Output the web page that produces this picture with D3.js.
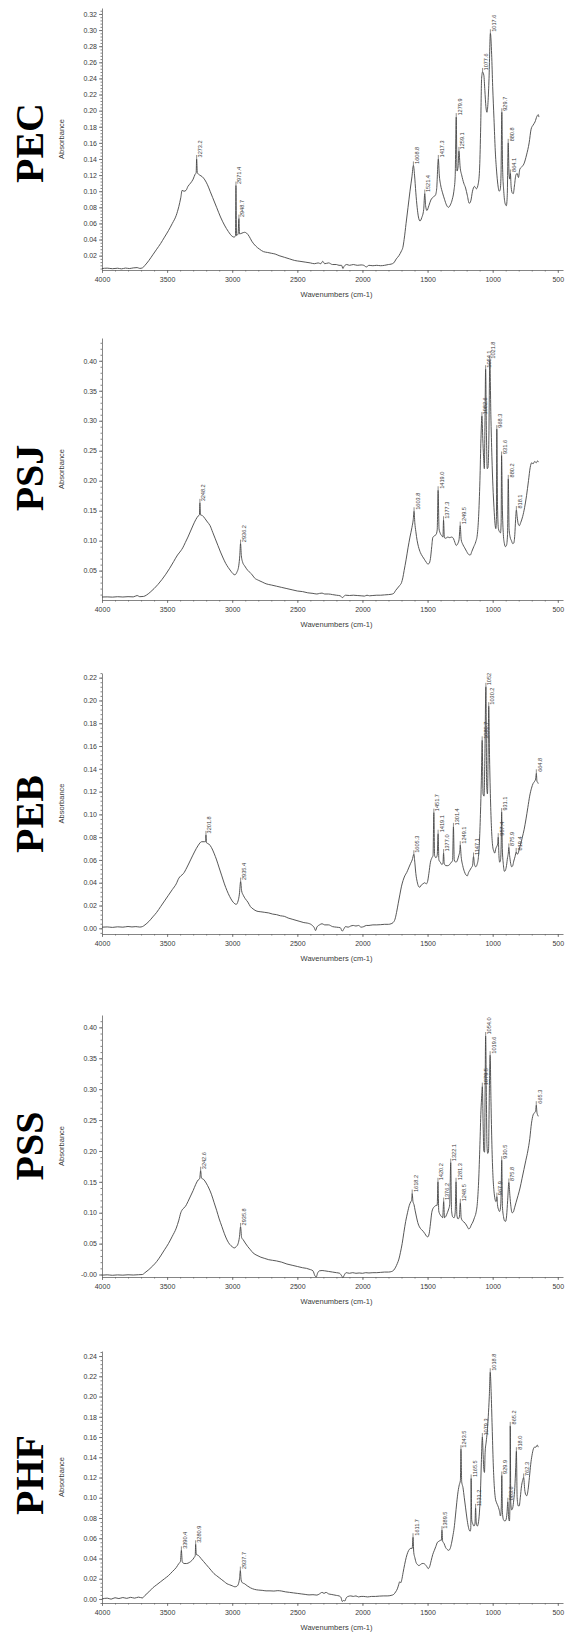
<!DOCTYPE html>
<html>
<head>
<meta charset="utf-8">
<script src="https://cdn.jsdelivr.net/npm/d3@7/dist/d3.min.js"></script>
<style>
	body { margin: 0; background: white; }
	svg { display: block; }
</style>
</head>
<body>
<div id="chart"></div>
<script>
// sample names, top to bottom
const sampleNames = ['PEC', 'PSJ', 'PEB', 'PSS', 'PHF'];

// x axis (wavenumber) ticks, shared by every panel
const waveTicks = [4000, 3500, 3000, 2500, 2000, 1500, 1000, 500];

// y tick labels for each panel
const pecTicks = ['0.02', '0.04', '0.06', '0.08', '0.10', '0.12', '0.14', '0.16', '0.18', '0.20', '0.22', '0.24', '0.26', '0.28', '0.30', '0.32'];
const psjTicks = ['0.05', '0.10', '0.15', '0.20', '0.25', '0.30', '0.35', '0.40'];
const pebTicks = ['0.00', '0.02', '0.04', '0.06', '0.08', '0.10', '0.12', '0.14', '0.16', '0.18', '0.20', '0.22'];
const pssTicks = ['-0.00', '0.05', '0.10', '0.15', '0.20', '0.25', '0.30', '0.35', '0.40'];
const phfTicks = ['0.00', '0.02', '0.04', '0.06', '0.08', '0.10', '0.12', '0.14', '0.16', '0.18', '0.20', '0.22', '0.24'];

// labelled peaks (wavenumber as printed)
const pecPeaks = ['3273.2', '2971.4', '2948.7', '1608.8', '1521.4', '1417.3', '1279.9', '1259.1', '1077.6', '1017.6', '929.7', '880.8', '864.1'];
const psjPeaks = ['3248.2', '2936.2', '1603.8', '1419.0', '1377.3', '1249.5', '1082.6', '1054.1', '1021.8', '968.3', '931.6', '880.2', '818.1'];
const pebPeaks = ['3201.8', '2935.4', '1605.3', '1451.7', '1419.1', '1377.0', '1301.4', '1249.1', '1147.1', '1080.7', '1052', '1030.2', '957.4', '931.1', '875.9', '819.4', '664.8'];
const pssPeaks = ['3242.6', '2935.8', '1618.2', '1420.2', '1376.2', '1322.1', '1281.3', '1248.5', '1079.5', '1054.0', '1019.6', '967.9', '930.5', '875.8', '665.3'];
const phfPeaks = ['3390.4', '3280.9', '2937.7', '1611.7', '1389.5', '1243.5', '1165.5', '1131.2', '1079.3', '1018.8', '929.9', '883.6', '865.2', '818.0', '762.3'];

// spectra: [wavenumber (cm-1), absorbance]
const pecSpectrum = [[4000,0.004],[3960,0.0045],[3920,0.0038],[3880,0.0044],[3850,0.0036],[3820,0.0046],[3790,0.004],[3760,0.0048],[3730,0.0052],[3710,0.0042],[3690,0.0048],[3670,0.008],[3640,0.014],[3610,0.021],[3580,0.028],[3550,0.035],[3520,0.043],[3490,0.051],[3460,0.06],[3430,0.07],[3410,0.081],[3395,0.092],[3385,0.101],[3370,0.1],[3355,0.101],[3340,0.106],[3320,0.11],[3300,0.115],[3285,0.121],[3277,0.123],[3273.2,0.14],[3268,0.123],[3250,0.12],[3230,0.118],[3210,0.114],[3190,0.108],[3170,0.1],[3150,0.092],[3120,0.08],[3090,0.068],[3060,0.058],[3030,0.05],[3000,0.044],[2985,0.043],[2975,0.045],[2971.4,0.107],[2967,0.045],[2955,0.047],[2948.7,0.066],[2944,0.047],[2925,0.048],[2905,0.049],[2890,0.048],[2870,0.044],[2850,0.038],[2820,0.032],[2790,0.028],[2760,0.025],[2730,0.024],[2700,0.023],[2670,0.022],[2640,0.02],[2600,0.018],[2560,0.016],[2520,0.014],[2480,0.013],[2440,0.012],[2400,0.011],[2370,0.01],[2340,0.011],[2320,0.01],[2305,0.013],[2290,0.01],[2260,0.011],[2230,0.009],[2200,0.009],[2180,0.008],[2160,0.008],[2150,0.004],[2140,0.007],[2120,0.009],[2100,0.008],[2070,0.009],[2040,0.008],[2010,0.0085],[1990,0.008],[1970,0.006],[1950,0.008],[1920,0.0075],[1890,0.008],[1860,0.0075],[1830,0.008],[1800,0.009],[1780,0.0095],[1760,0.011],[1740,0.016],[1720,0.02],[1700,0.026],[1690,0.03],[1680,0.04],[1665,0.06],[1650,0.08],[1635,0.1],[1620,0.118],[1608.8,0.132],[1600,0.12],[1590,0.098],[1580,0.08],[1570,0.068],[1558,0.063],[1545,0.067],[1530,0.077],[1521.4,0.097],[1515,0.082],[1505,0.076],[1490,0.082],[1475,0.089],[1455,0.093],[1440,0.095],[1430,0.103],[1417.3,0.14],[1410,0.12],[1400,0.108],[1385,0.098],[1370,0.09],[1355,0.083],[1340,0.08],[1325,0.083],[1310,0.09],[1298,0.1],[1288,0.118],[1279.9,0.192],[1274,0.125],[1266,0.13],[1259.1,0.15],[1250,0.13],[1238,0.12],[1222,0.11],[1208,0.104],[1195,0.095],[1180,0.085],[1168,0.088],[1155,0.1],[1140,0.106],[1125,0.103],[1110,0.11],[1100,0.13],[1092,0.18],[1085,0.24],[1077.6,0.248],[1068,0.244],[1060,0.225],[1052,0.205],[1044,0.198],[1036,0.21],[1028,0.24],[1017.6,0.296],[1008,0.27],[1000,0.23],[990,0.19],[980,0.15],[970,0.125],[960,0.108],[950,0.1],[942,0.102],[936,0.12],[929.7,0.198],[924,0.13],[915,0.1],[905,0.085],[895,0.082],[888,0.095],[880.8,0.16],[874,0.12],[868,0.115],[864.1,0.122],[858,0.105],[850,0.098],[842,0.097],[832,0.108],[822,0.12],[812,0.122],[802,0.117],[792,0.127],[778,0.13],[760,0.134],[740,0.145],[720,0.16],[705,0.177],[690,0.182],[675,0.186],[660,0.193],[650,0.195],[645,0.192]];

const psjSpectrum = [[4000,0.006],[3960,0.0062],[3920,0.0058],[3880,0.0065],[3840,0.006],[3800,0.0066],[3760,0.0062],[3730,0.0085],[3710,0.0065],[3680,0.007],[3660,0.009],[3630,0.014],[3600,0.02],[3570,0.027],[3540,0.035],[3510,0.044],[3480,0.054],[3450,0.065],[3420,0.076],[3395,0.083],[3380,0.088],[3360,0.097],[3340,0.106],[3320,0.116],[3300,0.126],[3280,0.135],[3262,0.141],[3252,0.143],[3248.2,0.163],[3244,0.143],[3230,0.142],[3210,0.137],[3190,0.131],[3170,0.125],[3150,0.114],[3130,0.103],[3110,0.092],[3090,0.081],[3070,0.071],[3050,0.062],[3030,0.055],[3010,0.049],[2995,0.045],[2980,0.043],[2965,0.047],[2950,0.058],[2942,0.075],[2936.2,0.095],[2930,0.075],[2920,0.064],[2905,0.058],[2890,0.053],[2870,0.048],[2850,0.044],[2830,0.038],[2800,0.034],[2770,0.031],[2740,0.028],[2700,0.026],[2660,0.024],[2620,0.022],[2580,0.02],[2540,0.018],[2500,0.016],[2460,0.015],[2420,0.013],[2380,0.012],[2350,0.011],[2330,0.012],[2310,0.0125],[2290,0.011],[2260,0.011],[2230,0.01],[2200,0.009],[2170,0.008],[2155,0.005],[2145,0.0065],[2130,0.009],[2100,0.0085],[2070,0.009],[2040,0.0085],[2010,0.008],[1985,0.0075],[1965,0.009],[1945,0.008],[1920,0.0085],[1890,0.009],[1860,0.009],[1830,0.0095],[1800,0.01],[1780,0.0105],[1760,0.012],[1745,0.017],[1730,0.021],[1715,0.025],[1700,0.03],[1690,0.038],[1680,0.05],[1665,0.068],[1650,0.088],[1635,0.106],[1620,0.122],[1610,0.135],[1603.8,0.149],[1598,0.13],[1590,0.115],[1580,0.1],[1570,0.09],[1555,0.08],[1540,0.074],[1525,0.069],[1510,0.064],[1498,0.061],[1488,0.062],[1478,0.07],[1468,0.09],[1460,0.105],[1448,0.108],[1435,0.11],[1426,0.118],[1419,0.184],[1412,0.12],[1402,0.112],[1390,0.108],[1382,0.106],[1377.3,0.134],[1371,0.105],[1360,0.104],[1345,0.106],[1330,0.105],[1315,0.106],[1300,0.103],[1290,0.097],[1280,0.092],[1268,0.095],[1258,0.102],[1249.5,0.125],[1242,0.102],[1230,0.094],[1215,0.088],[1200,0.082],[1185,0.077],[1172,0.076],[1160,0.082],[1145,0.09],[1130,0.098],[1118,0.11],[1108,0.14],[1098,0.2],[1090,0.27],[1082.6,0.308],[1076,0.27],[1070,0.24],[1064,0.22],[1059,0.3],[1054.1,0.386],[1048,0.28],[1042,0.22],[1036,0.222],[1030,0.26],[1021.8,0.401],[1014,0.31],[1006,0.24],[998,0.19],[990,0.155],[982,0.128],[976,0.12],[971,0.14],[968.3,0.286],[963,0.16],[956,0.12],[948,0.115],[940,0.113],[935,0.13],[931.6,0.242],[926,0.16],[918,0.11],[910,0.095],[902,0.09],[894,0.092],[886,0.11],[880.2,0.203],[874,0.12],[866,0.106],[856,0.1],[846,0.095],[838,0.096],[830,0.11],[824,0.135],[818.1,0.151],[812,0.14],[804,0.128],[795,0.125],[785,0.13],[770,0.14],[755,0.155],[740,0.175],[725,0.2],[712,0.222],[700,0.23],[690,0.228],[678,0.232],[665,0.23],[655,0.233],[648,0.231]];

const pebSpectrum = [[4000,0.001],[3960,0.0012],[3920,0.0008],[3880,0.0013],[3840,0.001],[3800,0.0016],[3770,0.0012],[3740,0.0015],[3710,0.0011],[3690,0.0015],[3670,0.003],[3640,0.006],[3610,0.01],[3580,0.014],[3550,0.019],[3520,0.024],[3490,0.029],[3460,0.034],[3430,0.039],[3410,0.044],[3395,0.046],[3375,0.048],[3350,0.053],[3320,0.06],[3290,0.067],[3260,0.073],[3235,0.076],[3215,0.076],[3205,0.076],[3201.8,0.082],[3197,0.075],[3180,0.074],[3160,0.071],[3140,0.066],[3120,0.06],[3100,0.053],[3080,0.046],[3060,0.039],[3040,0.033],[3020,0.028],[3000,0.024],[2985,0.022],[2970,0.021],[2955,0.024],[2945,0.03],[2935.4,0.041],[2928,0.033],[2915,0.029],[2900,0.026],[2880,0.023],[2860,0.019],[2840,0.017],[2810,0.015],[2780,0.0145],[2750,0.014],[2720,0.0135],[2690,0.0125],[2660,0.012],[2630,0.011],[2600,0.0105],[2570,0.009],[2540,0.008],[2510,0.007],[2480,0.006],[2450,0.005],[2420,0.0045],[2390,0.003],[2370,0.0005],[2360,-0.002],[2350,0.001],[2330,0.003],[2310,0.004],[2290,0.003],[2260,0.003],[2230,0.0015],[2200,0.001],[2170,0.0005],[2155,-0.0025],[2145,-0.001],[2130,0.0015],[2110,0.001],[2090,0.002],[2070,0.0025],[2050,0.002],[2030,0.0025],[2010,0.001],[1990,0.0015],[1970,0.0025],[1950,0.0025],[1920,0.003],[1890,0.003],[1860,0.0032],[1830,0.0035],[1800,0.0035],[1780,0.004],[1765,0.005],[1750,0.008],[1738,0.014],[1725,0.022],[1712,0.03],[1700,0.037],[1688,0.042],[1675,0.046],[1660,0.049],[1645,0.053],[1630,0.057],[1618,0.06],[1605.3,0.065],[1598,0.058],[1590,0.048],[1580,0.041],[1570,0.037],[1560,0.036],[1548,0.038],[1535,0.039],[1522,0.04],[1510,0.039],[1500,0.041],[1490,0.048],[1478,0.058],[1466,0.062],[1458,0.064],[1451.7,0.1015],[1446,0.064],[1436,0.062],[1426,0.064],[1419.1,0.083],[1413,0.06],[1402,0.058],[1390,0.056],[1382,0.057],[1377,0.066],[1372,0.057],[1360,0.055],[1345,0.055],[1330,0.056],[1318,0.058],[1308,0.059],[1301.4,0.089],[1295,0.06],[1282,0.058],[1270,0.06],[1260,0.064],[1252,0.068],[1249.1,0.073],[1242,0.063],[1230,0.055],[1218,0.05],[1206,0.047],[1195,0.046],[1185,0.049],[1175,0.051],[1165,0.053],[1155,0.055],[1147.1,0.063],[1140,0.056],[1130,0.054],[1120,0.056],[1110,0.062],[1102,0.075],[1094,0.1],[1087,0.13],[1080.7,0.165],[1074,0.118],[1066,0.116],[1060,0.15],[1052,0.212],[1046,0.125],[1040,0.118],[1035,0.15],[1030.2,0.195],[1024,0.15],[1016,0.11],[1008,0.085],[1000,0.072],[992,0.068],[984,0.066],[976,0.07],[968,0.072],[962,0.074],[957.4,0.08],[952,0.064],[946,0.058],[940,0.06],[935,0.072],[931.1,0.102],[926,0.07],[918,0.056],[910,0.05],[902,0.051],[894,0.055],[886,0.062],[880,0.066],[875.9,0.071],[870,0.064],[862,0.057],[854,0.054],[846,0.055],[838,0.059],[828,0.063],[819.4,0.067],[812,0.065],[804,0.066],[795,0.07],[785,0.074],[772,0.08],[758,0.087],[744,0.096],[730,0.106],[716,0.116],[702,0.123],[690,0.127],[678,0.129],[670,0.131],[664.8,0.136],[660,0.129],[654,0.128],[650,0.127]];

const pssSpectrum = [[4000,-0.001],[3960,-0.0005],[3920,-0.0012],[3880,-0.0006],[3840,-0.001],[3800,-0.0004],[3760,-0.0008],[3720,-0.0003],[3690,0.0],[3670,0.003],[3640,0.008],[3610,0.014],[3580,0.021],[3550,0.03],[3520,0.04],[3490,0.05],[3460,0.062],[3430,0.075],[3410,0.088],[3395,0.1],[3380,0.106],[3360,0.11],[3340,0.118],[3320,0.127],[3300,0.136],[3280,0.146],[3262,0.153],[3250,0.155],[3242.6,0.168],[3236,0.156],[3220,0.154],[3200,0.148],[3180,0.14],[3160,0.13],[3140,0.117],[3120,0.104],[3100,0.09],[3080,0.078],[3060,0.066],[3040,0.056],[3020,0.049],[3000,0.045],[2985,0.043],[2970,0.045],[2955,0.05],[2945,0.06],[2935.8,0.077],[2928,0.06],[2915,0.056],[2900,0.051],[2880,0.045],[2860,0.04],[2840,0.035],[2810,0.031],[2780,0.028],[2750,0.026],[2720,0.024],[2690,0.023],[2660,0.022],[2620,0.02],[2580,0.017],[2540,0.015],[2500,0.013],[2460,0.011],[2430,0.01],[2400,0.008],[2380,0.006],[2365,-0.002],[2355,-0.004],[2345,0.002],[2330,0.006],[2310,0.0065],[2290,0.006],[2260,0.005],[2230,0.004],[2200,0.003],[2175,0.002],[2160,-0.002],[2150,-0.005],[2140,-0.001],[2125,0.003],[2100,0.002],[2075,0.003],[2050,0.002],[2025,0.0025],[2000,0.002],[1975,0.003],[1950,0.0025],[1920,0.003],[1890,0.003],[1860,0.0035],[1830,0.004],[1800,0.004],[1775,0.005],[1760,0.007],[1745,0.012],[1732,0.018],[1720,0.025],[1708,0.036],[1695,0.05],[1682,0.068],[1668,0.086],[1654,0.1],[1640,0.112],[1628,0.118],[1622,0.12],[1618.2,0.131],[1612,0.118],[1604,0.113],[1595,0.103],[1585,0.093],[1575,0.084],[1562,0.077],[1548,0.073],[1534,0.07],[1520,0.066],[1508,0.062],[1498,0.061],[1488,0.066],[1478,0.082],[1468,0.1],[1458,0.107],[1446,0.11],[1434,0.112],[1426,0.112],[1420.2,0.15],[1414,0.103],[1404,0.097],[1394,0.094],[1384,0.092],[1376.2,0.118],[1370,0.092],[1360,0.094],[1348,0.1],[1338,0.106],[1330,0.113],[1322.1,0.181],[1316,0.104],[1306,0.093],[1296,0.092],[1288,0.1],[1281.3,0.15],[1275,0.096],[1266,0.09],[1256,0.093],[1248.5,0.116],[1242,0.092],[1232,0.087],[1220,0.085],[1208,0.082],[1196,0.078],[1185,0.074],[1175,0.075],[1165,0.08],[1152,0.085],[1140,0.092],[1128,0.1],[1118,0.115],[1108,0.15],[1098,0.21],[1090,0.265],[1084,0.29],[1079.5,0.304],[1073,0.24],[1068,0.2],[1062,0.198],[1058,0.3],[1054,0.386],[1049,0.3],[1044,0.21],[1038,0.196],[1032,0.2],[1026,0.29],[1019.6,0.355],[1013,0.28],[1006,0.21],[998,0.16],[990,0.135],[982,0.122],[975,0.118],[970,0.12],[967.9,0.126],[963,0.113],[955,0.105],[947,0.102],[940,0.108],[935,0.13],[930.5,0.185],[925,0.11],[917,0.094],[909,0.087],[901,0.086],[893,0.095],[885,0.12],[875.8,0.149],[868,0.128],[860,0.11],[851,0.1],[842,0.101],[832,0.108],[820,0.117],[805,0.128],[790,0.14],[775,0.155],[760,0.17],[745,0.185],[730,0.2],[715,0.22],[702,0.245],[690,0.258],[678,0.262],[670,0.265],[665.3,0.274],[660,0.262],[654,0.258],[650,0.256]];

const phfSpectrum = [[4000,0.0],[3960,0.0008],[3930,-0.0002],[3900,0.0012],[3870,0.0004],[3840,0.0014],[3810,0.0006],[3780,0.0016],[3750,0.0008],[3720,0.0018],[3690,0.001],[3670,0.0035],[3640,0.007],[3610,0.011],[3580,0.014],[3550,0.017],[3520,0.02],[3490,0.023],[3460,0.027],[3430,0.031],[3410,0.035],[3398,0.037],[3390.4,0.048],[3384,0.037],[3370,0.035],[3350,0.035],[3330,0.036],[3310,0.038],[3292,0.041],[3284,0.043],[3280.9,0.054],[3276,0.044],[3260,0.043],[3240,0.04],[3220,0.037],[3200,0.034],[3180,0.031],[3160,0.028],[3140,0.025],[3120,0.023],[3100,0.021],[3080,0.019],[3060,0.017],[3040,0.015],[3020,0.014],[3000,0.013],[2980,0.012],[2965,0.0125],[2952,0.015],[2944,0.02],[2937.7,0.028],[2932,0.019],[2922,0.016],[2905,0.015],[2885,0.013],[2860,0.011],[2830,0.0095],[2800,0.0088],[2770,0.0085],[2740,0.008],[2710,0.008],[2680,0.0078],[2650,0.0082],[2620,0.0078],[2590,0.007],[2560,0.0065],[2530,0.006],[2500,0.0055],[2470,0.005],[2440,0.0045],[2410,0.004],[2380,0.0042],[2350,0.0038],[2330,0.005],[2310,0.0065],[2295,0.0055],[2280,0.0065],[2260,0.005],[2240,0.0045],[2220,0.004],[2200,0.0035],[2180,0.003],[2165,0.0015],[2155,-0.0025],[2145,-0.0015],[2135,-0.002],[2125,0.001],[2110,0.0025],[2090,0.003],[2070,0.0025],[2050,0.003],[2030,0.002],[2010,0.0025],[1990,0.0025],[1960,0.002],[1930,0.0025],[1900,0.0025],[1870,0.0028],[1840,0.003],[1810,0.003],[1780,0.0035],[1760,0.0045],[1745,0.007],[1732,0.01],[1722,0.014],[1714,0.017],[1706,0.016],[1698,0.019],[1688,0.026],[1676,0.034],[1664,0.041],[1652,0.046],[1640,0.049],[1628,0.05],[1618,0.05],[1611.7,0.061],[1606,0.046],[1598,0.041],[1588,0.036],[1578,0.034],[1566,0.033],[1554,0.034],[1542,0.035],[1530,0.035],[1518,0.034],[1506,0.032],[1495,0.03],[1484,0.032],[1472,0.038],[1460,0.044],[1448,0.048],[1436,0.052],[1424,0.056],[1412,0.057],[1400,0.058],[1394,0.058],[1389.5,0.068],[1384,0.057],[1374,0.055],[1362,0.051],[1350,0.049],[1338,0.048],[1326,0.05],[1316,0.055],[1306,0.062],[1296,0.07],[1286,0.082],[1276,0.095],[1266,0.106],[1256,0.113],[1248,0.117],[1243.5,0.148],[1238,0.116],[1228,0.11],[1218,0.1],[1208,0.09],[1198,0.08],[1188,0.072],[1180,0.068],[1172,0.067],[1168,0.07],[1165.5,0.119],[1161,0.078],[1152,0.074],[1144,0.072],[1136,0.074],[1131.2,0.09],[1126,0.075],[1118,0.072],[1110,0.075],[1102,0.085],[1094,0.105],[1087,0.135],[1082,0.155],[1079.3,0.16],[1074,0.145],[1068,0.128],[1063,0.125],[1058,0.145],[1050,0.155],[1042,0.165],[1034,0.18],[1026,0.2],[1018.8,0.224],[1012,0.205],[1004,0.17],[996,0.135],[988,0.112],[980,0.1],[970,0.095],[960,0.092],[950,0.088],[940,0.082],[934,0.09],[929.9,0.122],[925,0.085],[916,0.078],[906,0.077],[898,0.078],[890,0.085],[883.6,0.096],[877,0.08],[871,0.077],[867,0.1],[865.2,0.171],[861,0.095],[854,0.088],[846,0.09],[838,0.098],[830,0.11],[823,0.13],[818,0.146],[812,0.1],[804,0.092],[796,0.092],[788,0.1],[778,0.112],[770,0.117],[762.3,0.12],[754,0.108],[746,0.103],[738,0.102],[728,0.108],[718,0.12],[708,0.133],[698,0.142],[688,0.148],[678,0.15],[668,0.15],[658,0.152],[650,0.15]];

const width = 567,
	height = 1633;

const xLeft = 102,
	xRight = 563;

// one entry per panel: data + where it sits on the page
const panels = [
	{ name: sampleNames[0], spectrum: pecSpectrum, peaks: pecPeaks, ticks: pecTicks, yDomain: [0.0022, 0.3274], minor: 0.004, top: 8, bottom: 270, nameY: 143 },
	{ name: sampleNames[1], spectrum: psjSpectrum, peaks: psjPeaks, ticks: psjTicks, yDomain: [0.001, 0.438], minor: 0.01, top: 338, bottom: 600, nameY: 478 },
	{ name: sampleNames[2], spectrum: pebSpectrum, peaks: pebPeaks, ticks: pebTicks, yDomain: [-0.005, 0.2241], minor: 0.004, top: 673, bottom: 934, nameY: 814 },
	{ name: sampleNames[3], spectrum: pssSpectrum, peaks: pssPeaks, ticks: pssTicks, yDomain: [-0.004, 0.42], minor: 0.01, top: 1015, bottom: 1277, nameY: 1146 },
	{ name: sampleNames[4], spectrum: phfSpectrum, peaks: phfPeaks, ticks: phfTicks, yDomain: [-0.004, 0.245], minor: 0.004, top: 1351, bottom: 1603, nameY: 1475 }
];

function drawPanel(svg, p) {

	let x = d3.scaleLinear()
		.domain([4000, 460])
		.range([xLeft, xRight]);

	let y = d3.scaleLinear()
		.domain(p.yDomain)
		.range([p.bottom, p.top]);

	let g = svg.append('g');

	// minor ticks first, so major ticks sit on top
	let yMinor = d3.range(Math.ceil(p.yDomain[0] / p.minor) * p.minor, p.yDomain[1], p.minor);
	g.append('g')
		.attr('transform', 'translate(' + xLeft + ',0)')
		.call(d3.axisLeft(y).tickValues(yMinor).tickSize(1.5).tickFormat('').tickSizeOuter(0))
		.call(a => a.select('.domain').remove());

	let yAxis = g.append('g')
		.attr('transform', 'translate(' + xLeft + ',0)')
		.call(d3.axisLeft(y)
			.tickValues(p.ticks.map(t => +t))
			.tickFormat((d, i) => p.ticks[i])
			.tickSize(3)
			.tickPadding(2)
			.tickSizeOuter(0));

	let xMinor = d3.range(4000, 460, -100);
	g.append('g')
		.attr('transform', 'translate(0,' + p.bottom + ')')
		.call(d3.axisBottom(x).tickValues(xMinor).tickSize(1.5).tickFormat('').tickSizeOuter(0))
		.call(a => a.select('.domain').remove());

	let xAxis = g.append('g')
		.attr('transform', 'translate(0,' + p.bottom + ')')
		.call(d3.axisBottom(x)
			.tickValues(waveTicks)
			.tickFormat(d3.format('d'))
			.tickSize(3)
			.tickPadding(4)
			.tickSizeOuter(0));

	g.selectAll('.tick line').attr('stroke', '#666').attr('stroke-width', 0.8);
	g.selectAll('.domain').attr('stroke', '#666').attr('stroke-width', 0.8);
	[xAxis, yAxis].forEach(a => a
		.attr('font-size', 7)
		.attr('font-family', 'Liberation Sans, Arial, sans-serif')
		.selectAll('text')
		.attr('fill', '#3a3a3a'));

	// spectrum
	let line = d3.line()
		.x(d => x(d[0]))
		.y(d => y(d[1]))
		.curve(d3.curveMonotoneX);

	g.append('path')
		.datum(p.spectrum)
		.attr('fill', 'none')
		.attr('stroke', '#444')
		.attr('stroke-width', 0.9)
		.attr('d', line);

	// peak labels
	p.peaks.forEach(label => {
		let pt = p.spectrum.find(d => d[0] === +label);
		if (!pt) return;
		let px = x(pt[0]),
			py = y(pt[1]);

		g.append('line')
			.attr('x1', px)
			.attr('x2', px)
			.attr('y1', py)
			.attr('y2', py - 4)
			.attr('stroke', '#444')
			.attr('stroke-width', 0.6);

		g.append('text')
			.attr('transform', 'translate(' + (px + 5.5) + ',' + (py - 1.5) + ') rotate(-90)')
			.attr('font-size', 5.6)
			.attr('font-family', 'Liberation Sans, Arial, sans-serif')
			.attr('fill', '#3a3a3a')
			.text(label);
	});

	// axis titles
	g.append('text')
		.attr('transform', 'translate(64,' + ((p.top + p.bottom) / 2) + ') rotate(-90)')
		.attr('text-anchor', 'middle')
		.attr('font-size', 7.5)
		.attr('font-family', 'Liberation Sans, Arial, sans-serif')
		.attr('fill', '#3a3a3a')
		.text('Absorbance');

	g.append('text')
		.attr('x', (xLeft + xRight) / 2 + 4)
		.attr('y', p.bottom + 27)
		.attr('text-anchor', 'middle')
		.attr('font-size', 7.5)
		.attr('font-family', 'Liberation Sans, Arial, sans-serif')
		.attr('fill', '#3a3a3a')
		.text('Wavenumbers (cm-1)');

	// sample name
	g.append('text')
		.attr('transform', 'translate(43,' + p.nameY + ') rotate(-90)')
		.attr('text-anchor', 'middle')
		.attr('font-size', 40)
		.attr('font-weight', 'bold')
		.attr('font-family', 'Liberation Serif, Times New Roman, serif')
		.attr('fill', '#000')
		.text(p.name);
}

let svg = d3.select('#chart')
	.append('svg')
	.attr('width', width)
	.attr('height', height)
	.style('background', 'white');

panels.forEach(p => drawPanel(svg, p));
</script>
</body>
</html>
